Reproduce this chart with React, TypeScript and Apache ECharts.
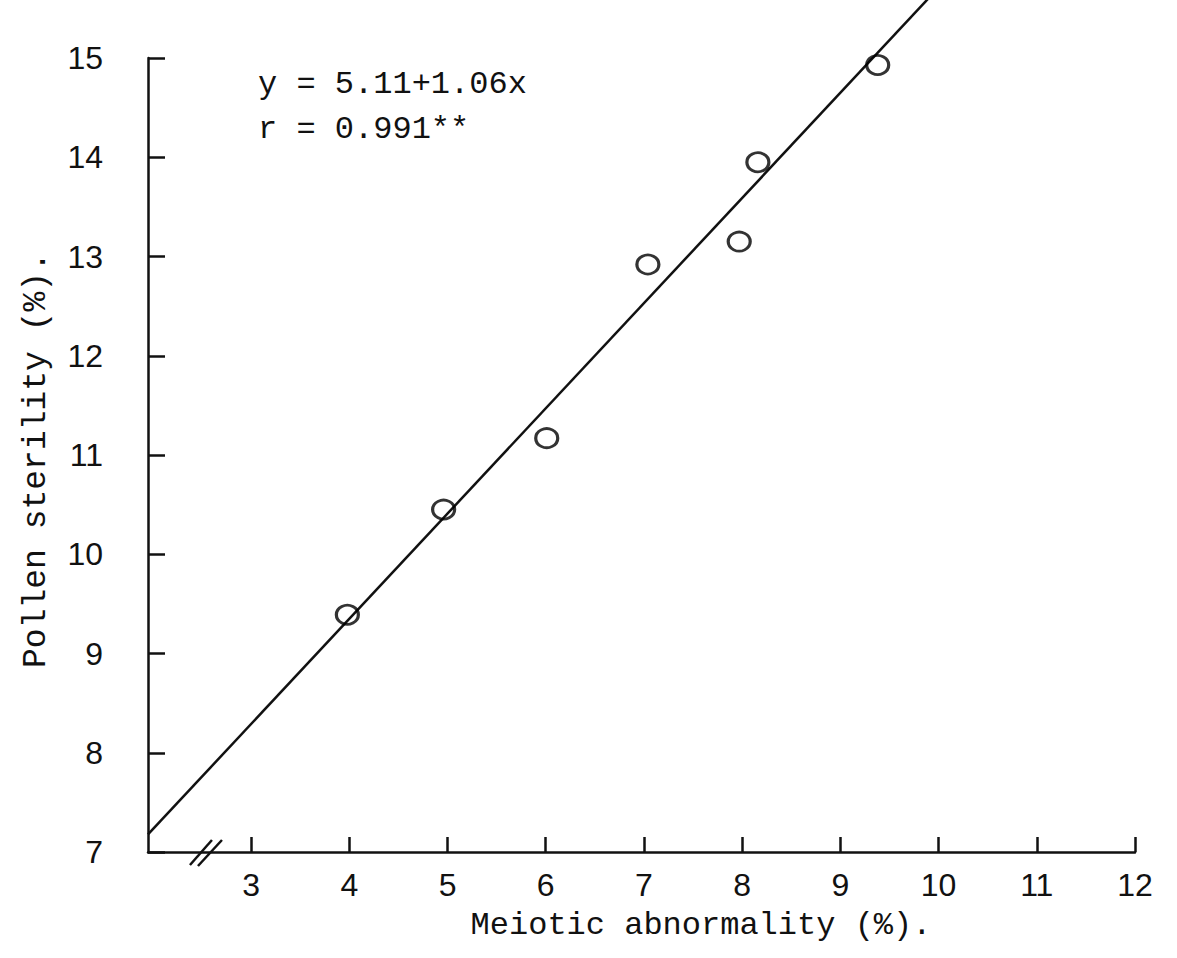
import React, { useEffect, useRef } from "react";
import * as echarts from "echarts";

// Observations: meiotic abnormality (%) vs pollen sterility (%)
const meioticAbnormality = [3.98, 4.96, 6.01, 7.04, 7.97, 8.16, 9.38];
const pollenSterility = [9.39, 10.45, 11.17, 12.92, 13.15, 13.95, 14.93];

// Fitted regression y = a + b x and correlation
const INTERCEPT = 5.11;
const SLOPE = 1.06;
const CORRELATION = "0.991**";

// Axis extents and tick values
const X_MIN = 1.95;
const X_MAX = 12;
const X_LINE_END = 9.9;
const xTickValues = [3, 4, 5, 6, 7, 8, 9, 10, 11, 12];
const Y_MIN = 7;
const Y_MAX = 15;
const Y_STEP = 1;
const X_BREAK_AT = 2.53;

const xTitle = "Meiotic abnormality (%).";
const yTitle = "Pollen sterility (%).";

const MONO = "'Liberation Mono', 'Courier New', monospace";
const DIGITS = "'Liberation Sans', Arial, sans-serif";
const INK = "#111";

export default function App() {
  const ref = useRef<HTMLDivElement>(null);

  useEffect(() => {
    if (!ref.current) return;
    const chart = echarts.init(ref.current, undefined, { renderer: "svg" });

    const points = meioticAbnormality.map((x, i) => [x, pollenSterility[i]]);
    const fitLine = [
      [X_MIN, INTERCEPT + SLOPE * X_MIN],
      [X_LINE_END, INTERCEPT + SLOPE * X_LINE_END],
    ];

    chart.setOption({
      animation: false,
      backgroundColor: "#fff",
      grid: { left: 148, right: 42, top: 58, bottom: 106 },
      xAxis: {
        type: "value",
        min: X_MIN,
        max: X_MAX,
        splitLine: { show: false },
        axisLine: { show: true, lineStyle: { color: INK, width: 2.5 } },
        axisTick: {
          show: true,
          inside: true,
          length: 15,
          customValues: xTickValues,
          lineStyle: { color: INK, width: 2.5 },
        },
        axisLabel: {
          customValues: xTickValues,
          margin: 17,
          color: INK,
          fontFamily: DIGITS,
          fontSize: 32,
        },
      },
      yAxis: {
        type: "value",
        min: Y_MIN,
        max: Y_MAX,
        interval: Y_STEP,
        splitLine: { show: false },
        axisLine: { show: true, lineStyle: { color: INK, width: 2.5 } },
        axisTick: {
          show: true,
          inside: true,
          length: 17,
          lineStyle: { color: INK, width: 2.5 },
        },
        axisLabel: {
          margin: 45,
          color: INK,
          fontFamily: DIGITS,
          fontSize: 32,
        },
      },
      series: [
        {
          type: "line",
          data: fitLine,
          clip: false,
          symbol: "none",
          lineStyle: { color: INK, width: 2.5 },
          z: 2,
        },
        {
          type: "scatter",
          data: points,
          symbol: "circle",
          symbolSize: [22, 19],
          itemStyle: {
            color: "rgba(255,255,255,0)",
            borderColor: "#000",
            borderWidth: 3,
          },
          z: 3,
        },
      ],
    });

    // axis break marks and annotations placed after the grid is laid out
    const [bx, by] = chart.convertToPixel({ gridIndex: 0 }, [X_BREAK_AT, Y_MIN]) as number[];
    chart.setOption({
      graphic: [
        {
          type: "line",
          shape: { x1: bx - 15, y1: by + 13, x2: bx + 7, y2: by - 12 },
          style: { stroke: INK, lineWidth: 2.5 },
        },
        {
          type: "line",
          shape: { x1: bx - 7, y1: by + 14, x2: bx + 17, y2: by - 12 },
          style: { stroke: INK, lineWidth: 2.5 },
        },
        {
          type: "text",
          x: 258,
          y: 84,
          style: {
            text: `y = ${INTERCEPT.toFixed(2)}+${SLOPE.toFixed(2)}x`,
            font: `32px ${MONO}`,
            fill: INK,
            verticalAlign: "middle",
          },
        },
        {
          type: "text",
          x: 258,
          y: 129,
          style: {
            text: `r = ${CORRELATION}`,
            font: `32px ${MONO}`,
            fill: INK,
            verticalAlign: "middle",
          },
        },
        {
          type: "text",
          x: 701,
          y: 925,
          style: {
            text: xTitle,
            font: `32px ${MONO}`,
            fill: INK,
            align: "center",
            verticalAlign: "middle",
          },
        },
        {
          type: "text",
          x: 36,
          y: 460,
          rotation: Math.PI / 2,
          style: {
            text: yTitle,
            font: `33px ${MONO}`,
            fill: INK,
            align: "center",
            verticalAlign: "middle",
          },
        },
      ],
    });

    return () => chart.dispose();
  }, []);

  return (
    <div
      ref={ref}
      style={{ position: "absolute", left: 0, top: 0, width: 1177, height: 958, background: "#fff" }}
    />
  );
}
